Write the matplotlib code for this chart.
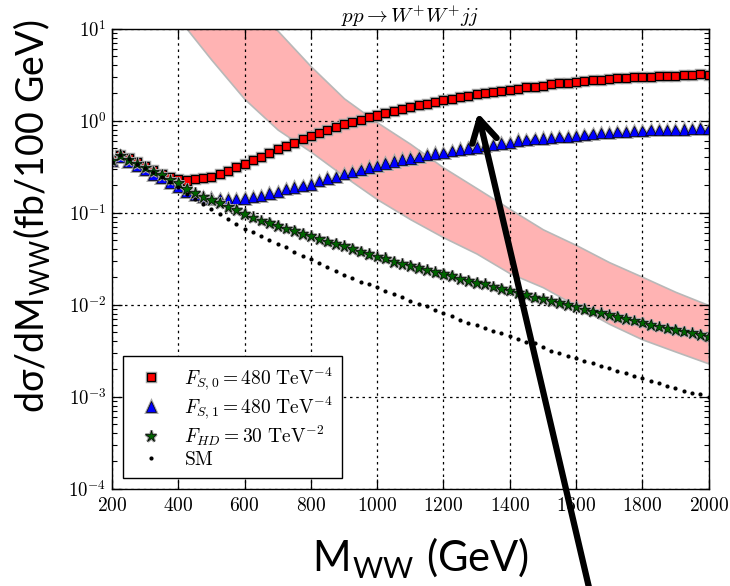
import numpy as np
import matplotlib
matplotlib.use("Agg")
import matplotlib.pyplot as plt
import matplotlib.patheffects as pe
from matplotlib.ticker import LogLocator, NullFormatter, FixedLocator

plt.rcParams['mathtext.fontset'] = 'cm'

# ---------------- data ----------------
m_ww = [200, 225, 250, 275, 300, 325, 350, 375, 400, 425, 450, 475, 500, 525, 550, 575,
        600, 625, 650, 675, 700, 725, 750, 775, 800, 825, 850, 875, 900, 925, 950, 975,
        1000, 1025, 1050, 1075, 1100, 1125, 1150, 1175, 1200, 1225, 1250, 1275, 1300,
        1325, 1350, 1375, 1400, 1425, 1450, 1475, 1500, 1525, 1550, 1575, 1600, 1625,
        1650, 1675, 1700, 1725, 1750, 1775, 1800, 1825, 1850, 1875, 1900, 1925, 1950,
        1975, 2000]

fs0 = [0.37, 0.42, 0.39, 0.355, 0.32, 0.29, 0.265, 0.245, 0.23, 0.224, 0.23, 0.238, 0.246,
       0.262, 0.285, 0.311, 0.34, 0.377, 0.406, 0.445, 0.489, 0.533, 0.577, 0.633, 0.676,
       0.733, 0.80, 0.857, 0.917, 0.967, 1.03, 1.09, 1.14, 1.22, 1.27, 1.35, 1.42, 1.48,
       1.52, 1.61, 1.68, 1.72, 1.80, 1.86, 1.94, 1.99, 2.05, 2.09, 2.14, 2.21, 2.34, 2.34,
       2.40, 2.48, 2.55, 2.55, 2.61, 2.70, 2.77, 2.77, 2.82, 2.89, 2.89, 2.96, 2.96, 3.01,
       3.06, 3.06, 3.06, 3.11, 3.14, 3.19, 3.14]

fs1 = [0.37, 0.41, 0.36, 0.32, 0.29, 0.26, 0.237, 0.213, 0.19, 0.17, 0.156, 0.149, 0.143,
       0.141, 0.14, 0.14, 0.143, 0.149, 0.153, 0.162, 0.169, 0.18, 0.187, 0.195, 0.202,
       0.222, 0.235, 0.246, 0.262, 0.277, 0.293, 0.31, 0.324, 0.341, 0.36, 0.377, 0.39,
       0.406, 0.424, 0.442, 0.449, 0.469, 0.489, 0.501, 0.514, 0.531, 0.545, 0.568, 0.575,
       0.607, 0.617, 0.633, 0.643, 0.645, 0.67, 0.67, 0.682, 0.70, 0.717, 0.73, 0.73,
       0.759, 0.759, 0.773, 0.773, 0.792, 0.792, 0.792, 0.795, 0.805, 0.81, 0.826, 0.81]

fhd = [0.37, 0.42, 0.376, 0.344, 0.311, 0.28, 0.257, 0.23, 0.209, 0.181, 0.163, 0.149,
       0.138, 0.128, 0.116, 0.107, 0.097, 0.089, 0.082, 0.077, 0.072, 0.067, 0.063, 0.059,
       0.0556, 0.0518, 0.0484, 0.0457, 0.0435, 0.0403, 0.0377, 0.0353, 0.0333, 0.0319,
       0.0293, 0.0277, 0.0265, 0.0252, 0.0238, 0.0225, 0.0214, 0.0205, 0.019, 0.0181,
       0.0173, 0.0167, 0.0157, 0.0148, 0.0143, 0.0135, 0.0127, 0.012, 0.0115, 0.011,
       0.0105, 0.0099, 0.0095, 0.0089, 0.0084, 0.0081, 0.0077, 0.0073, 0.0070, 0.0067,
       0.0064, 0.0060, 0.0058, 0.0055, 0.0053, 0.0051, 0.0049, 0.0047, 0.0045]

sm = [0.36, 0.42, 0.38, 0.34, 0.305, 0.275, 0.245, 0.215, 0.188, 0.16, 0.14, 0.124, 0.11,
      0.0965, 0.0852, 0.0757, 0.067, 0.062, 0.0552, 0.0505, 0.0453, 0.042, 0.0377, 0.0341,
      0.0316, 0.0286, 0.0259, 0.0232, 0.021, 0.0194, 0.0178, 0.0167, 0.0155, 0.0142,
      0.0131, 0.012, 0.011, 0.0103, 0.0097, 0.0088, 0.0082, 0.0076, 0.0069, 0.0064, 0.006,
      0.0056, 0.0052, 0.0049, 0.00455, 0.0042, 0.00396, 0.0038, 0.00344, 0.00316, 0.00296,
      0.00277, 0.00261, 0.00244, 0.00231, 0.00216, 0.00203, 0.0019, 0.00179, 0.00168,
      0.00158, 0.00149, 0.0014, 0.00131, 0.00123, 0.00115, 0.0011, 0.00106, 0.001]

band_x = [400, 500, 600, 700, 800, 900, 1000, 1100, 1200, 1300, 1400, 1500, 1600, 1700,
          1800, 1900, 2000]
band_hi = [100, 45, 20, 9.5, 3.9, 1.75, 0.96, 0.56, 0.31, 0.185, 0.11, 0.066, 0.0446,
           0.029, 0.0201, 0.0138, 0.0099]
band_lo = [13, 4.6, 1.72, 0.80, 0.46, 0.25, 0.14, 0.085, 0.054, 0.036, 0.022, 0.0155,
           0.0098, 0.0062, 0.0042, 0.0031, 0.0023]

labels = [r'$F_{S,0}=480\ \mathrm{TeV}^{-4}$', r'$F_{S,1}=480\ \mathrm{TeV}^{-4}$',
          r'$F_{HD}=30\ \mathrm{TeV}^{-2}$', r'$\mathrm{SM}$']
title = r'$pp\rightarrow W^{+}W^{+}jj$'
xticks = [200, 400, 600, 800, 1000, 1200, 1400, 1600, 1800, 2000]
yticks = [1e-4, 1e-3, 1e-2, 1e-1, 1e0, 1e1]
ytick_labels = [r'$10^{-4}$', r'$10^{-3}$', r'$10^{-2}$', r'$10^{-1}$', r'$10^{0}$', r'$10^{1}$']

# ---------------- figure ----------------
fig = plt.figure(figsize=(7.3, 5.86), dpi=100)
ax = fig.add_axes([0.1534, 0.166, 0.8173, 0.785])

ax.fill_between(band_x, band_lo, band_hi, facecolor=(1.0, 0.70, 0.70),
                edgecolor='0.72', linewidth=1.2, zorder=1)

def halo(w):
    return [pe.Stroke(linewidth=w + 1.6, foreground='0.65'), pe.Normal()]

ax.plot(m_ww, fs0, 's', color='red', mec='black', ms=5.8, mew=0.9, label=labels[0],
        zorder=3, path_effects=halo(0.9))
ax.plot(m_ww, fs1, '^', color='blue', mec='black', ms=7.5, mew=0.5, label=labels[1],
        zorder=3, path_effects=halo(0.5))
ax.plot(m_ww, fhd, '*', color='darkgreen', mec='black', ms=8.5, mew=0.5, label=labels[2],
        zorder=3, path_effects=halo(0.5))
ax.plot(m_ww, sm, 'o', color='black', ms=3.0, mew=0, label=labels[3], zorder=3)

ax.set_yscale('log')
ax.set_xlim(200, 2000)
ax.set_ylim(1e-4, 1e1)

ax.xaxis.set_major_locator(FixedLocator(xticks))
ax.set_xticklabels([f'${t}$' for t in xticks])
ax.yaxis.set_major_locator(FixedLocator(yticks))
ax.set_yticklabels(ytick_labels)
ax.yaxis.set_minor_locator(LogLocator(base=10, subs=np.arange(2, 10)))
ax.yaxis.set_minor_formatter(NullFormatter())

ax.tick_params(which='both', direction='in', top=True, right=True, color='black')
ax.tick_params(which='major', length=7, width=0.9)
ax.tick_params(which='minor', length=3.5, width=0.8)
ax.tick_params(axis='x', labelsize=14, pad=5)
ax.tick_params(axis='y', labelsize=13.5, pad=4)

ax.set_axisbelow('line')
ax.grid(True, which='major', color='black', linestyle=(0, (2, 3)), linewidth=0.9)
for sp in ax.spines.values():
    sp.set_linewidth(1.0)
    sp.set_color('black')
    sp.set_zorder(4)

ax.set_title(title, fontsize=15, pad=4)

leg = ax.legend(loc='lower left', numpoints=1, fontsize=14, fancybox=False,
                framealpha=1, edgecolor='black', borderaxespad=0.55, handletextpad=0.7,
                labelspacing=0.12, borderpad=0.45, handlelength=2.0)
leg.get_frame().set_linewidth(1.0)
leg.set_zorder(5)

# slide-style axis titles
fam = ['Lato', 'DejaVu Sans']
fig.text(32 / 730, 1 - 216 / 586, 'dσ/dM$_\\mathregular{WW}$(fb/100 GeV)', rotation=90,
         ha='center', va='center', fontsize=27, family=fam)
fig.text(421 / 730, 1 - 572 / 586, 'M$_\\mathregular{WW}$ (GeV)', ha='center',
         va='baseline', fontsize=30, family=fam)

# annotation arrow
ax.annotate('', xy=(478 / 730, 1 - 113 / 586), xycoords='figure fraction',
            xytext=(590 / 730, -0.01), textcoords='figure fraction',
            annotation_clip=False,
            arrowprops=dict(arrowstyle='->,head_length=0.8,head_width=0.45', lw=4.5,
                            color='black', mutation_scale=20, shrinkA=0, shrinkB=0))

fig.savefig('out.png', dpi=100)
